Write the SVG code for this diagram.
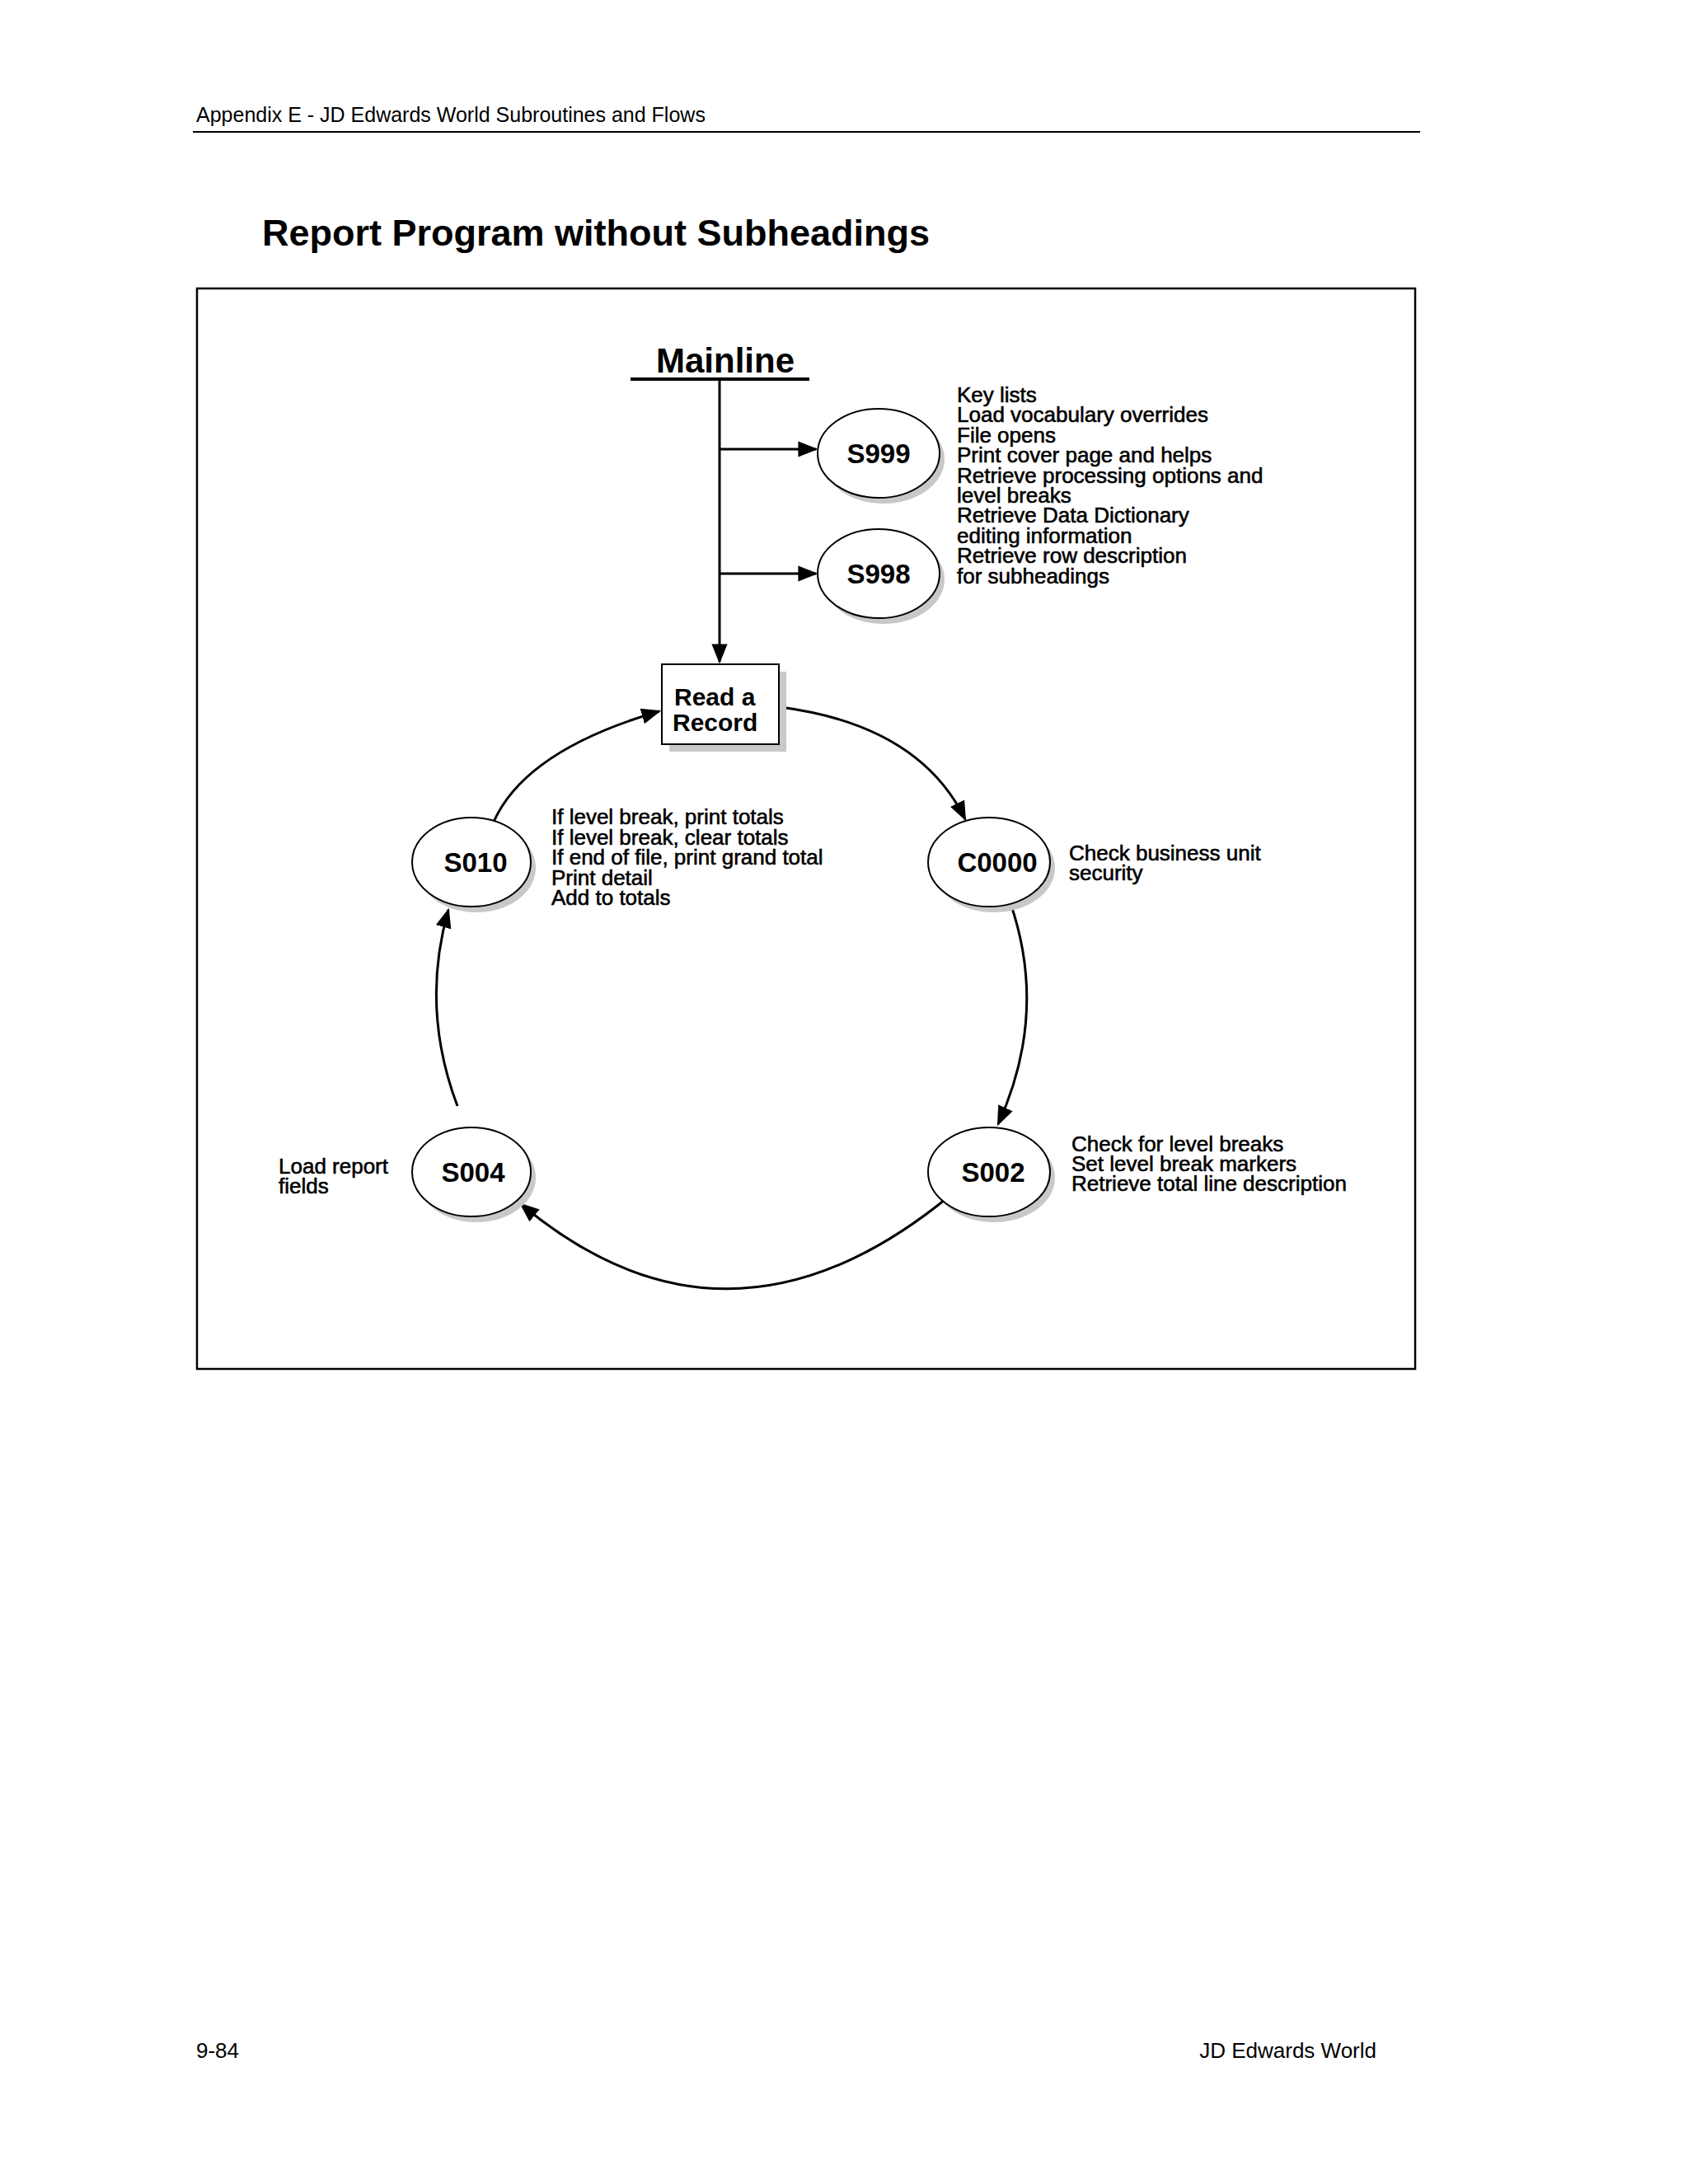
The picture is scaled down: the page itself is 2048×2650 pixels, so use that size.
<svg xmlns="http://www.w3.org/2000/svg" width="2048" height="2650" viewBox="0 0 2048 2650">
<style>
text{font-family:"Liberation Sans",Arial,sans-serif;fill:#000}
.t{font-size:26px;stroke:#000;stroke-width:0.6}
.n{font-size:33px;font-weight:bold;text-anchor:middle}
.c{fill:none;stroke:#000;stroke-width:3}
.sh{fill:#c8c8c8}
.nd{fill:#fff;stroke:#000;stroke-width:2}
</style>
<defs>
<marker id="b" viewBox="0 0 10 10" refX="9" refY="5" markerWidth="24" markerHeight="24" orient="auto" markerUnits="userSpaceOnUse"><path d="M0,1L10,5L0,9z"/></marker>
</defs>
<rect width="2048" height="2650" fill="#fff"/>
<text x="238" y="148" style="font-size:25px">Appendix E - JD Edwards World Subroutines and Flows</text>
<line x1="234" y1="160" x2="1723" y2="160" stroke="#000" stroke-width="2"/>
<text x="318" y="298" style="font-size:45px;font-weight:bold">Report Program without Subheadings</text>
<rect x="239" y="350" width="1478" height="1311" fill="none" stroke="#000" stroke-width="2.5"/>
<g id="mainline"><text x="880" y="452" style="font-size:42px;font-weight:bold;text-anchor:middle">Mainline</text>
<line x1="765" y1="460" x2="982" y2="460" stroke="#000" stroke-width="4"/></g>
<g id="connectors">
<line class="c" x1="873" y1="460" x2="873" y2="803" marker-end="url(#b)"/>
<line class="c" x1="873" y1="545" x2="990" y2="545" marker-end="url(#b)"/>
<line class="c" x1="873" y1="696" x2="990" y2="696" marker-end="url(#b)"/>
<path class="c" d="M947,858 Q1115,880 1171,994" marker-end="url(#b)"/>
<path class="c" d="M1226,1096 Q1272,1230 1211,1364" marker-end="url(#b)"/>
<path class="c" d="M1151,1452 Q883,1671 632,1461" marker-end="url(#b)"/>
<path class="c" d="M555,1342 Q510,1223 544,1104" marker-end="url(#b)"/>
<path class="c" d="M599,997 Q638,910 800,863" marker-end="url(#b)"/>
</g>
<g id="S999"><ellipse class="sh" cx="1072" cy="557" rx="74" ry="54"/><ellipse class="nd" cx="1066" cy="550" rx="74" ry="54"/><text class="n" x="1066" y="562">S999</text></g>
<g id="S998"><ellipse class="sh" cx="1072" cy="703" rx="74" ry="54"/><ellipse class="nd" cx="1066" cy="696" rx="74" ry="54"/><text class="n" x="1066" y="708">S998</text></g>
<g id="mainline-text"><text class="t" x="1161" y="488">Key lists</text><text class="t" x="1161" y="512">Load vocabulary overrides</text><text class="t" x="1161" y="537">File opens</text><text class="t" x="1161" y="561">Print cover page and helps</text><text class="t" x="1161" y="586">Retrieve processing options and</text><text class="t" x="1161" y="610">level breaks</text><text class="t" x="1161" y="634">Retrieve Data Dictionary</text><text class="t" x="1161" y="659">editing information</text><text class="t" x="1161" y="683">Retrieve row description</text><text class="t" x="1161" y="708">for subheadings</text></g>
<g id="read"><rect class="sh" x="812" y="815" width="142" height="97"/><rect class="nd" x="803" y="806" width="142" height="97"/><text x="818" y="856" style="font-size:30px;font-weight:bold">Read a</text><text x="816" y="887" style="font-size:30px;font-weight:bold">Record</text></g>
<g id="S010"><ellipse class="sh" cx="578" cy="1053" rx="72" ry="54"/><ellipse class="nd" cx="572" cy="1046" rx="72" ry="54"/><text class="n" x="577" y="1058">S010</text>
<text class="t" x="669" y="1000">If level break, print totals</text><text class="t" x="669" y="1025">If level break, clear totals</text><text class="t" x="669" y="1049">If end of file, print grand total</text><text class="t" x="669" y="1074">Print detail</text><text class="t" x="669" y="1098">Add to totals</text></g>
<g id="C0000"><ellipse class="sh" cx="1206" cy="1053" rx="74" ry="54"/><ellipse class="nd" cx="1200" cy="1046" rx="74" ry="54"/><text class="n" x="1210" y="1058">C0000</text>
<text class="t" x="1297" y="1044">Check business unit</text><text class="t" x="1297" y="1068">security</text></g>
<g id="S002"><ellipse class="sh" cx="1206" cy="1429" rx="74" ry="54"/><ellipse class="nd" cx="1200" cy="1422" rx="74" ry="54"/><text class="n" x="1205" y="1434">S002</text>
<text class="t" x="1300" y="1397">Check for level breaks</text><text class="t" x="1300" y="1421">Set level break markers</text><text class="t" x="1300" y="1445">Retrieve total line description</text></g>
<g id="S004"><ellipse class="sh" cx="578" cy="1429" rx="72" ry="54"/><ellipse class="nd" cx="572" cy="1422" rx="72" ry="54"/><text class="n" x="574" y="1434">S004</text>
<text class="t" x="338" y="1424">Load report</text><text class="t" x="338" y="1448">fields</text></g>
<text x="238" y="2497" style="font-size:26px">9-84</text>
<text x="1670" y="2497" style="font-size:26px;text-anchor:end">JD Edwards World</text>
</svg>
